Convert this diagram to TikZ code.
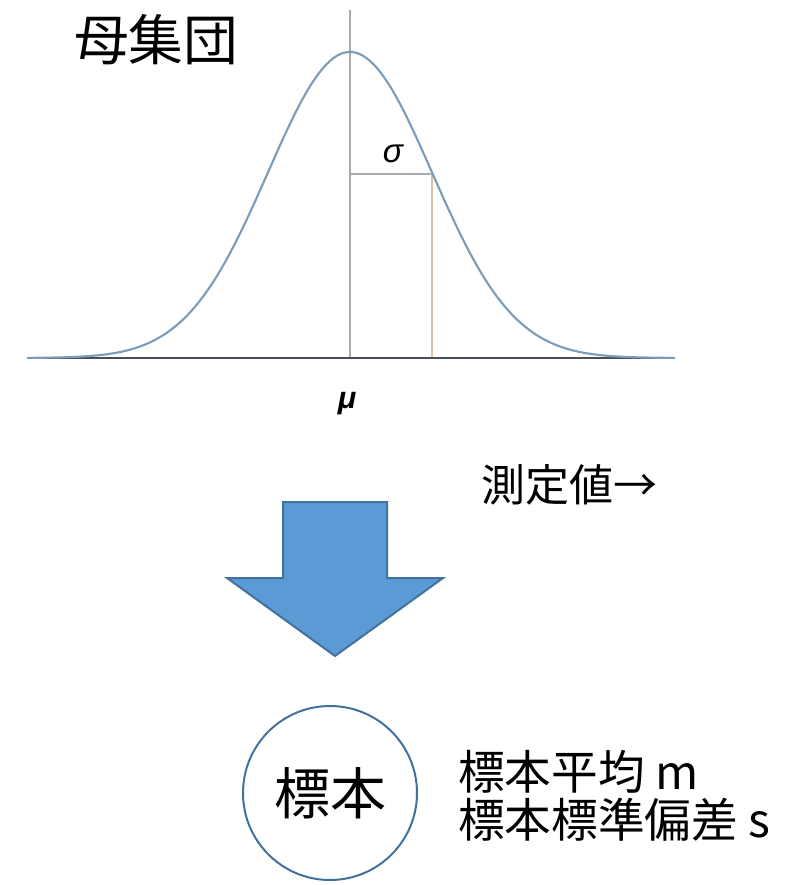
\documentclass[tikz,border=0pt]{standalone}
\usepackage{fontspec}
\usetikzlibrary{positioning}
\newfontfamily\jpfont{Noto Sans CJK JP}
\newfontfamily\grfont{Liberation Sans}
\definecolor{curveblue}{HTML}{7B9DBA}
\definecolor{axisgray}{HTML}{4A4F57}
\definecolor{guidegray}{HTML}{A9A9A9}
\definecolor{sigmatan}{HTML}{D9C2A8}
\definecolor{arrowfill}{HTML}{5B9BD5}
\definecolor{arrowedge}{HTML}{41719C}

\begin{document}
\begin{tikzpicture}[
  x=0.75pt, y=-0.75pt,
  declare function={
    gauss(\t) = 306*exp(-0.5*((\t-350)/82)^2);
  },
  every node/.style={text=black, inner sep=0pt},
  curve/.style={curveblue, line width=1.6pt},
  axis/.style={axisgray, line width=1.3pt},
  guide/.style={guidegray, line width=1.2pt},
  sigmaline/.style={sigmatan, line width=1.2pt},
  bigarrow/.style={fill=arrowfill, draw=arrowedge, line width=1.5pt, line join=miter},
  samplecirc/.style={circle, draw=arrowedge, line width=1.5pt, minimum size=130.5pt},
  jplabel/.style={font=\jpfont\fontsize{#1}{#1}\selectfont},
  grlabel/.style={font=\grfont\fontsize{#1}{#1}\selectfont}
]
  \useasboundingbox (0,0) rectangle (791,885);

  %% ---- 母集団の分布 ------------------------------------------------
  \draw[guide] (350,10) -- (350,358);
  \draw[guide] (350,174) -- (432,174);
  \draw[sigmaline] (432,174) -- (432,358);
  \draw[axis] (27,358) -- (675,358);
  \draw[curve] plot[domain=27:675, samples=200, smooth] (\x,{358-gauss(\x)});

  \node (pop) at (156,40) [jplabel=41pt] {母集団};
  \node (sig) at (393,154) [grlabel=25pt] {\itshape σ};
  \node (mu)  at (347,404) [grlabel=23pt] {\bfseries\itshape μ};
  \node (meas) at (569,485) [jplabel=33pt] {測定値→};

  %% ---- 抽出の矢印 --------------------------------------------------
  \draw[bigarrow] (283,502) -- (387,502) -- (387,578) -- (443,578)
    -- (335,656) -- (227,578) -- (283,578) -- cycle;

  %% ---- 標本 --------------------------------------------------------
  \node[samplecirc, jplabel=42pt] (samp) at (330,793) {標本};
  \node[anchor=west, align=left, font=\jpfont\fontsize{35pt}{36pt}\selectfont]
    (stats) at (458,796) {標本平均 m\\標本標準偏差 s};

\end{tikzpicture}
\end{document}
